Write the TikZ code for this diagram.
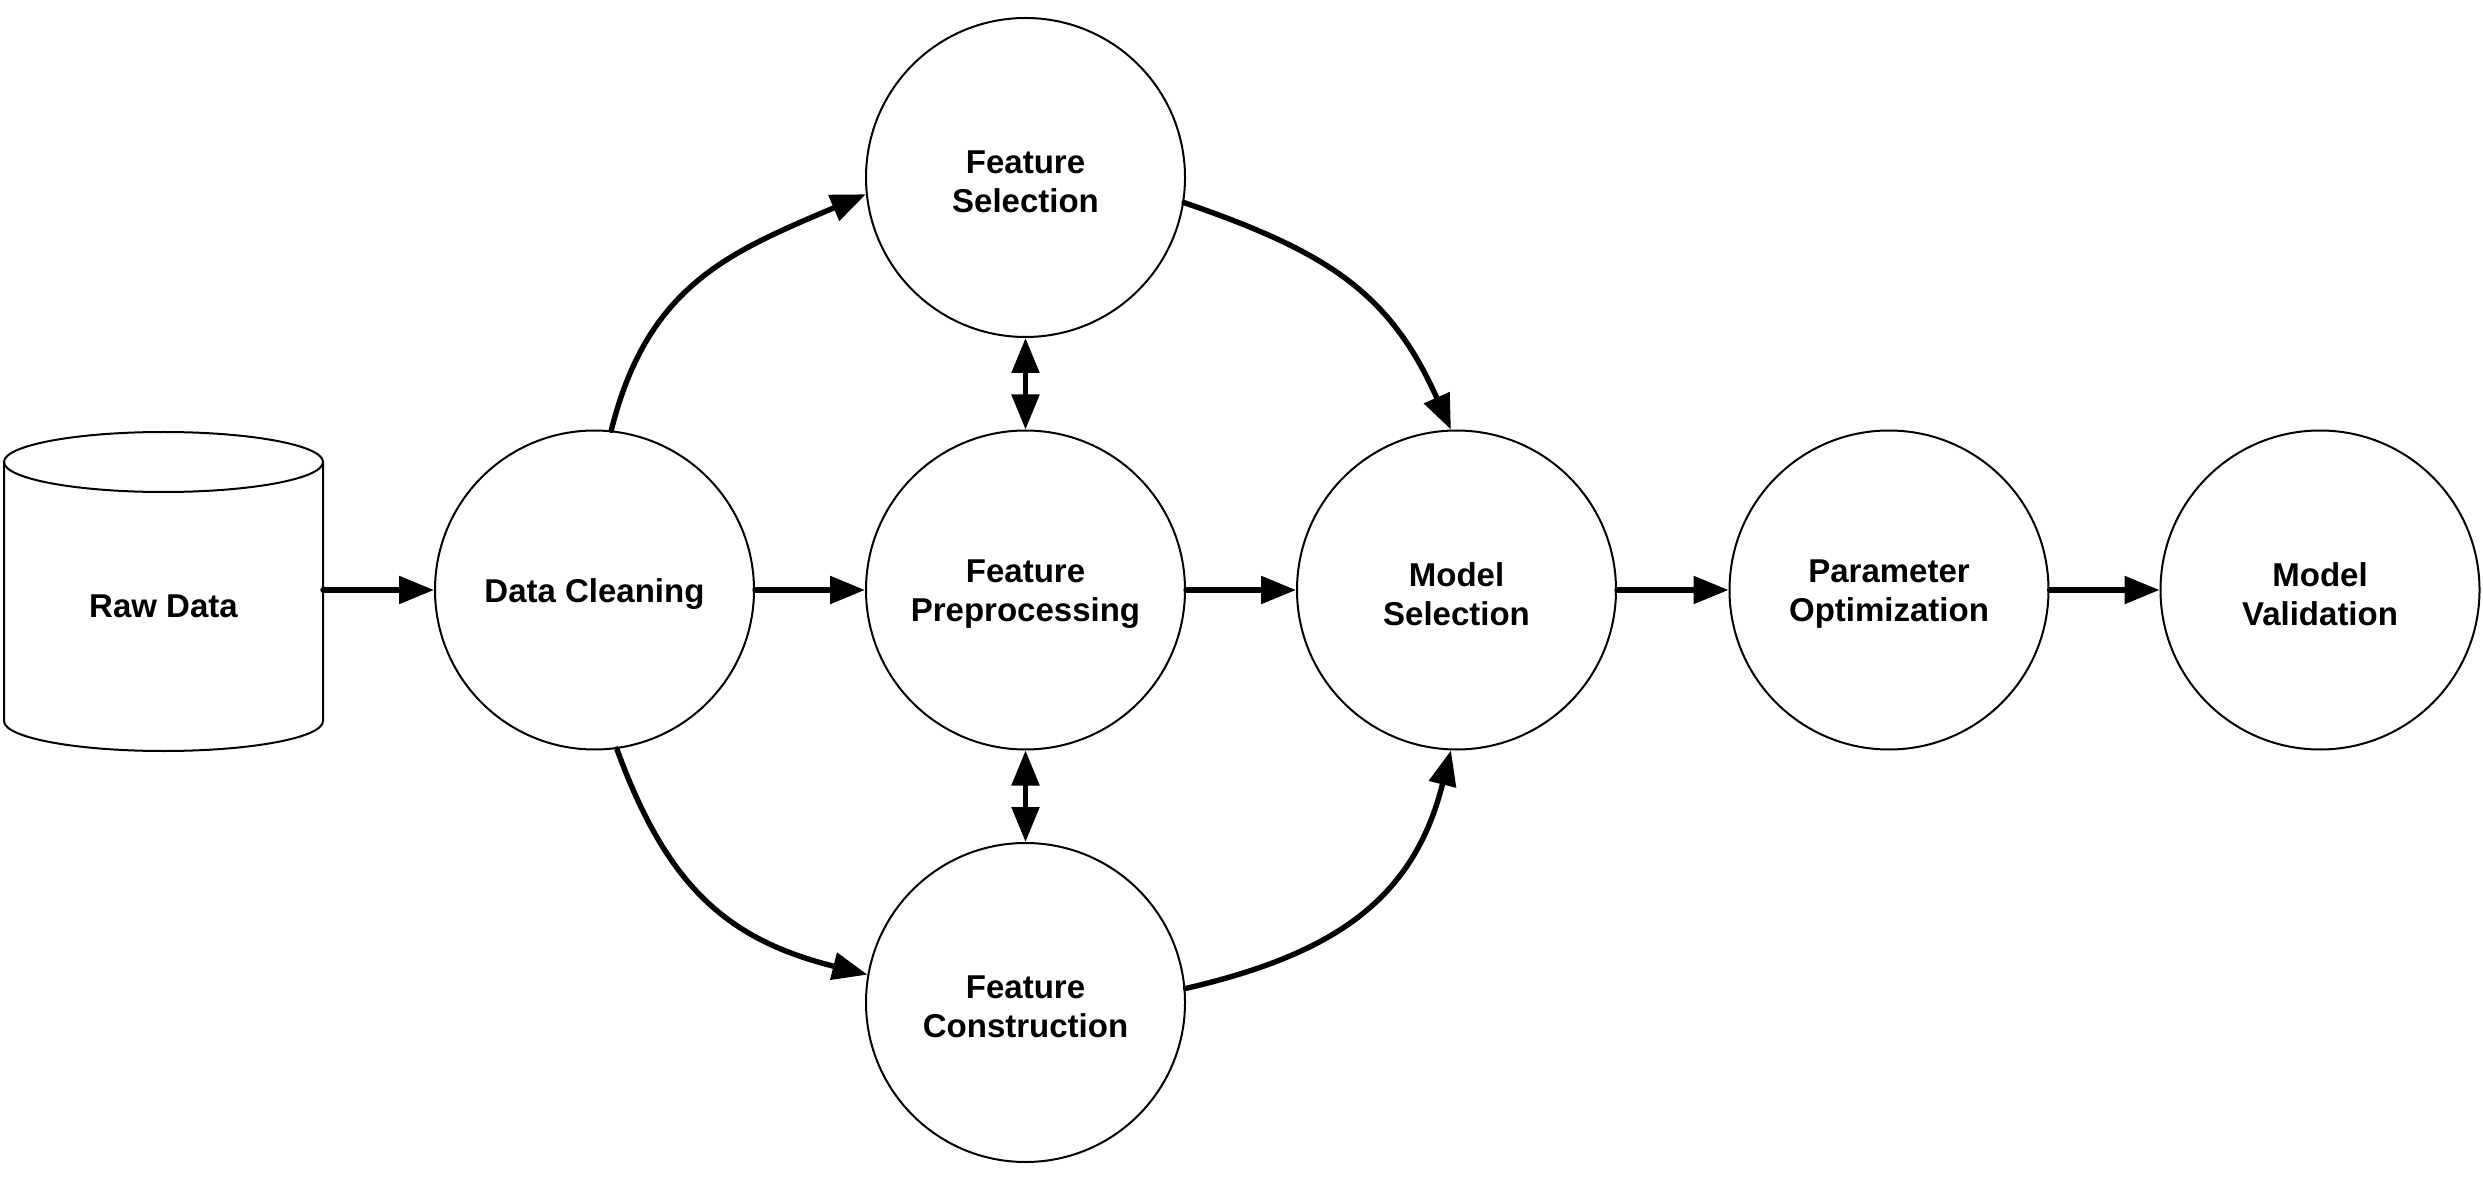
\documentclass[tikz,border=0pt]{standalone}
\usepackage{fontspec}
\setmainfont{Liberation Sans}
\usetikzlibrary{arrows.meta}
\begin{document}
\begin{tikzpicture}[x=0.5pt,y=0.5pt,
  stage/.style={circle, draw, line width=1pt, minimum size=159.5pt, inner sep=0pt},
  stagetxt/.style={inner sep=0pt, align=center, yshift=-2pt,
    font=\fontsize{16.5}{19.5}\selectfont\bfseries},
  lbl/.style={inner sep=0pt, font=\fontsize{16.5}{19.5}\selectfont\bfseries},
  shapeline/.style={line width=1pt},
  conn/.style={line width=2.7pt, line cap=round, -{Triangle[length=17.5pt,width=13.5pt]}},
  biconn/.style={line width=2.7pt, {Triangle[length=17.5pt,width=13.5pt]}-{Triangle[length=17.5pt,width=13.5pt]}}]
\useasboundingbox (0,0) rectangle (2483,-1181);

% Raw data cylinder
\node[minimum width=159.5pt, minimum height=159.5pt, inner sep=0pt, outer sep=0pt] (raw) at (163.5,-590) {};
\draw[shapeline] (4,-462) -- (4,-721) arc[start angle=180,end angle=360,x radius=79.75pt,y radius=15pt] -- (323,-462);
\draw[shapeline] (163.5,-462) ellipse[x radius=79.75pt, y radius=15pt];
\node[lbl] (rawtxt) at (163.5,-606) {Raw Data};

% Stages
\node[stage, label={[stagetxt]center:{Data Cleaning}}] (dc) at (594.5,-590) {};
\node[stage, label={[stagetxt]center:{Feature\\Selection}}] (fs) at (1025.5,-177.5) {};
\node[stage, label={[stagetxt]center:{Feature\\Preprocessing}}] (fp) at (1025.5,-590) {};
\node[stage, label={[stagetxt]center:{Feature\\Construction}}] (fc) at (1025.5,-1002.5) {};
\node[stage, label={[stagetxt]center:{Model\\Selection}}] (ms) at (1456.5,-590) {};
\node[stage, label={[stagetxt]center:{Parameter\\Optimization}}] (po) at (1889,-590) {};
\node[stage, label={[stagetxt]center:{Model\\Validation}}] (mv) at (2320,-590) {};

% Straight connectors
\draw[conn] (raw.east) -- (dc.west);
\draw[conn] (dc.east) -- (fp.west);
\draw[conn] (fp.east) -- (ms.west);
\draw[conn] (ms.east) -- (po.west);
\draw[conn] (po.east) -- (mv.west);

% Curved connectors
\draw[conn] (dc.84) to[out=76,in=203,looseness=1.1] (fs.186);
\draw[conn] (fs.-9) to[out=-19,in=114,looseness=1.1] (ms.92);
\draw[conn] (dc.-82) to[out=-70,in=166,looseness=1.1] (fc.170);
\draw[conn] (fc.5) to[out=13,in=-104,looseness=1.1] (ms.268);

% Bidirectional connectors
\draw[biconn] (fs.south) -- (fp.north);
\draw[biconn] (fp.south) -- (fc.north);
\end{tikzpicture}
\end{document}
